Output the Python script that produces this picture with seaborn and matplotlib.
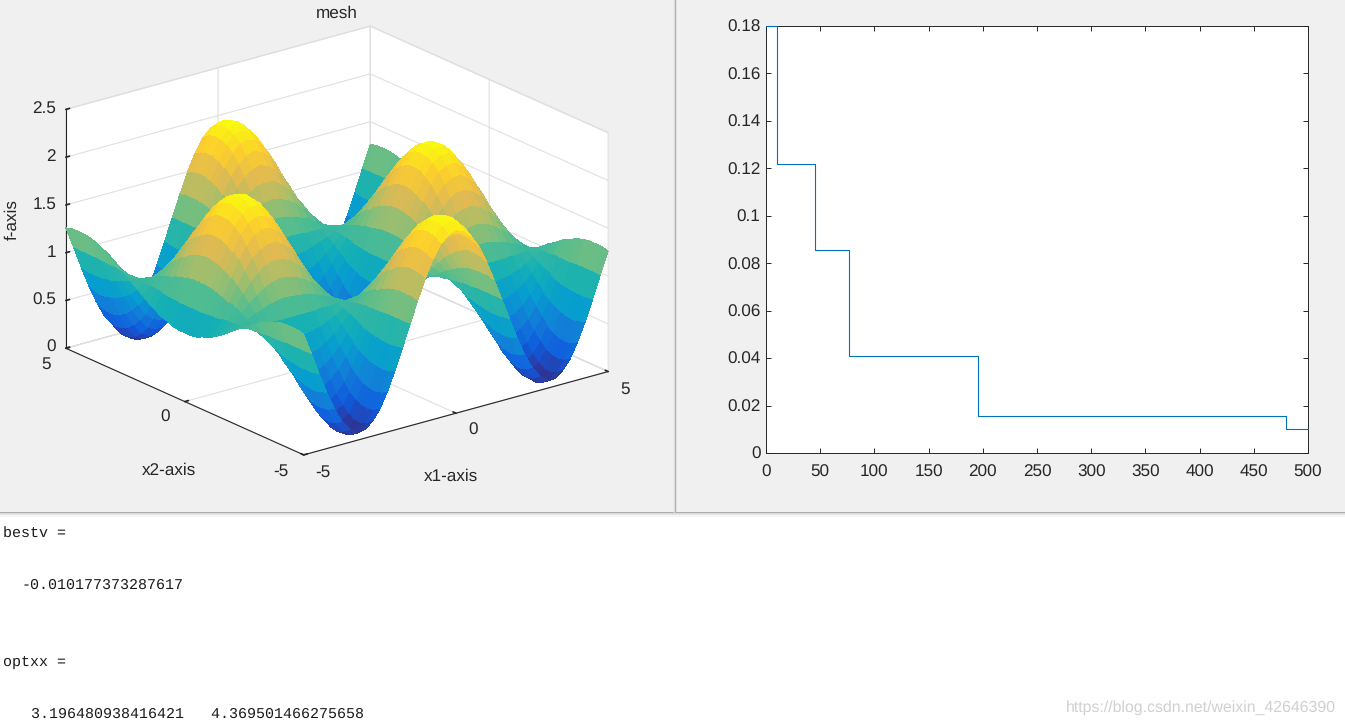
import numpy as np
import pandas as pd
import matplotlib
matplotlib.use('Agg')
import matplotlib.pyplot as plt
from matplotlib.colors import LinearSegmentedColormap
from matplotlib.patches import Rectangle
from matplotlib.lines import Line2D
import seaborn as sns

# best value per iteration (right window)
iteracion = [0, 10, 45, 77, 196, 480, 500]
mejor_valor = [0.18, 0.122, 0.0857, 0.041, 0.0157, 0.0102, 0.0102]

x_ticks_2d = list(range(0, 501, 50))
y_ticks_2d = [0, 0.02, 0.04, 0.06, 0.08, 0.1, 0.12, 0.14, 0.16, 0.18]
y_labels_2d = ['0', '0.02', '0.04', '0.06', '0.08', '0.1', '0.12', '0.14', '0.16', '0.18']

# surface heights read for one quadrant, x2 = 0..5 (rows), x1 = 0..5 (columns), step 0.25
cuadrante = np.array([
    [.00, .03, .12, .27, .46, .69, .93, 1.18, 1.42, 1.63, 1.80, 1.92, 1.99, 1.99, 1.94, 1.82, 1.65, 1.45, 1.21, .96, .72],
    [.02, .05, .14, .28, .47, .69, .93, 1.18, 1.41, 1.62, 1.79, 1.91, 1.97, 1.98, 1.92, 1.81, 1.64, 1.44, 1.21, .96, .72],
    [.06, .09, .18, .31, .49, .70, .93, 1.17, 1.39, 1.59, 1.75, 1.87, 1.93, 1.93, 1.88, 1.77, 1.61, 1.42, 1.20, .96, .73],
    [.14, .16, .24, .37, .53, .73, .94, 1.15, 1.36, 1.54, 1.69, 1.80, 1.85, 1.86, 1.81, 1.71, 1.56, 1.39, 1.18, .97, .76],
    [.24, .26, .33, .44, .59, .76, .95, 1.14, 1.32, 1.48, 1.61, 1.70, 1.75, 1.76, 1.71, 1.62, 1.50, 1.34, 1.16, .97, .78],
    [.37, .39, .44, .54, .66, .80, .96, 1.11, 1.26, 1.40, 1.51, 1.59, 1.63, 1.63, 1.59, 1.52, 1.41, 1.28, 1.13, .98, .82],
    [.51, .53, .57, .64, .74, .85, .97, 1.09, 1.20, 1.31, 1.39, 1.45, 1.48, 1.49, 1.46, 1.40, 1.32, 1.22, 1.10, .98, .86],
    [.67, .68, .71, .76, .82, .90, .98, 1.06, 1.14, 1.21, 1.26, 1.30, 1.32, 1.33, 1.31, 1.27, 1.21, 1.15, 1.07, .99, .91],
    [.84, .85, .86, .89, .92, .95, .99, 1.03, 1.07, 1.10, 1.13, 1.14, 1.15, 1.16, 1.15, 1.13, 1.10, 1.07, 1.03, .99, .96],
    [1.02, 1.02, 1.02, 1.01, 1.01, 1.01, 1.00, 1.00, .99, .99, .98, .98, .98, .98, .98, .98, .99, .99, 1.00, 1.00, 1.01],
    [1.20, 1.19, 1.17, 1.14, 1.11, 1.06, 1.01, .97, .92, .88, .84, .82, .81, .81, .82, .84, .87, .91, .96, 1.01, 1.06],
    [1.37, 1.35, 1.32, 1.27, 1.20, 1.12, 1.03, .94, .85, .77, .71, .66, .64, .64, .66, .70, .76, .84, .92, 1.01, 1.10],
    [1.52, 1.51, 1.46, 1.38, 1.28, 1.17, 1.04, .91, .78, .67, .58, .52, .48, .48, .51, .57, .66, .77, .89, 1.02, 1.15],
    [1.67, 1.64, 1.58, 1.49, 1.36, 1.21, 1.05, .88, .72, .58, .47, .39, .34, .34, .38, .45, .57, .70, .86, 1.03, 1.19],
    [1.79, 1.76, 1.69, 1.58, 1.42, 1.25, 1.06, .86, .67, .51, .37, .27, .22, .22, .26, .36, .49, .65, .83, 1.03, 1.22],
    [1.88, 1.86, 1.78, 1.65, 1.48, 1.28, 1.06, .84, .63, .45, .29, .18, .13, .12, .17, .28, .42, .61, .81, 1.03, 1.25],
    [1.95, 1.92, 1.84, 1.70, 1.51, 1.30, 1.07, .83, .60, .40, .24, .12, .06, .06, .11, .22, .38, .58, .80, 1.04, 1.27],
    [1.99, 1.96, 1.87, 1.73, 1.54, 1.31, 1.07, .82, .59, .38, .21, .08, .02, .02, .07, .19, .35, .56, .79, 1.04, 1.28],
    [2.00, 1.97, 1.88, 1.73, 1.54, 1.31, 1.07, .82, .58, .37, .20, .08, .01, .01, .06, .18, .35, .55, .79, 1.04, 1.28],
    [1.98, 1.95, 1.86, 1.71, 1.53, 1.31, 1.07, .83, .59, .39, .22, .10, .03, .03, .09, .20, .36, .57, .79, 1.04, 1.28],
    [1.92, 1.89, 1.81, 1.68, 1.50, 1.29, 1.07, .84, .62, .42, .26, .15, .09, .08, .14, .24, .40, .59, .81, 1.04, 1.26],
])

# the four quadrants look the same in the picture, so mirror the table
z = np.hstack([cuadrante[:, :0:-1], cuadrante])
z = np.vstack([z[:0:-1], z])
eje = np.arange(-5, 5.01, 0.25)
x1, x2 = np.meshgrid(eje, eje)

parula = LinearSegmentedColormap.from_list('parula', [
    (.2081, .1663, .5292), (.0591, .3598, .8683), (.0723, .4887, .8467), (.0265, .6137, .8135),
    (.0843, .6928, .7062), (.3482, .7424, .5473), (.6473, .7456, .4188), (.8824, .7274, .3217),
    (.9880, .8066, .1794), (.9763, .9831, .0538)])

sns.set_theme(style='white')
plt.rcParams['font.family'] = ['Liberation Sans', 'DejaVu Sans']
plt.rcParams['axes3d.automargin'] = False
plt.rcParams['axes.unicode_minus'] = False
plt.rcParams['text.hinting'] = 'no_hinting'

W, H = 1345, 727
fig = plt.figure(figsize=(W / 100, H / 100), dpi=100, facecolor='white')
gris = '#f0f0f0'
texto = '#262626'
tam = 12.3

# window backgrounds
fig.patches.append(Rectangle((0, 1 - 512 / H), 1, 512 / H, transform=fig.transFigure, color=gris, zorder=-5))
for py, c in [(512.5, '#a0a0a0'), (514, '#e2e2e2'), (516, '#f4f4f4')]:
    fig.lines.append(Line2D([0, 1], [1 - py / H] * 2, transform=fig.transFigure, color=c, lw=1.2))
for px, c in [(675, '#a8a8a8'), (673.5, '#dcdcdc')]:
    fig.lines.append(Line2D([px / W] * 2, [1 - 512 / H, 1], transform=fig.transFigure, color=c, lw=1))

# left window: surface
ax = fig.add_axes([-43 / W, 1 - 620.5 / H, 740 / W, 740 / H], projection='3d')
ax.patch.set_alpha(0)
ax.set_proj_type('ortho')
ax.view_init(elev=20.5, azim=-128.0)
ax.set_box_aspect((1, 1, 0.66), zoom=0.791)
ax.plot_surface(x1, x2, z, cmap=parula, vmin=0, vmax=2, rstride=1, cstride=1,
                linewidth=0, antialiased=False, shade=False)
ax.set_xlim(-5, 5)
ax.set_ylim(-5, 5)
ax.set_zlim(0, 2.5)
ax.set_xticks([-5, 0, 5])
ax.set_yticks([-5, 0, 5])
ax.set_zticks([0, 0.5, 1, 1.5, 2, 2.5])
ax.set_zticklabels(['0', '0.5', '1', '1.5', '2', '2.5'])
for a in (ax.xaxis, ax.yaxis, ax.zaxis):
    a.set_pane_color((1, 1, 1, 1))
    a.pane.set_edgecolor('#d6d6d6')
    a.pane.set_linewidth(0.8)
    a._axinfo['grid'].update(color='#e0e0e0', linewidth=0.8)
    a._axinfo['tick'].update(inward_factor=0, outward_factor=0.15)
    a.line.set_color('#262626')
    a.line.set_linewidth(0.8)
ax.tick_params(labelsize=tam, colors=texto)
ax.tick_params(axis='x', pad=6)
ax.tick_params(axis='y', pad=6)
ax.tick_params(axis='z', pad=-3)
for t in ax.zaxis.get_ticklabels():
    t.set_ha('right')
    t.set_va('center')
for t in ax.xaxis.get_ticklabels():
    t.set_ha('left')
    t.set_va('center')
for t in ax.yaxis.get_ticklabels():
    t.set_ha('right')
    t.set_va('center')

fig.text(337 / W, 1 - 13 / H, 'mesh', fontsize=tam, color=texto, ha='center', va='center')
fig.text(451 / W, 1 - 476 / H, 'x1-axis', fontsize=tam, color=texto, ha='center', va='center')
fig.text(169 / W, 1 - 470 / H, 'x2-axis', fontsize=tam, color=texto, ha='center', va='center')
fig.text(12 / W, 1 - 220 / H, 'f-axis', fontsize=tam, color=texto, ha='center', va='center', rotation=90)

# right window: convergence curve
ax2 = fig.add_axes([766 / W, 1 - 453 / H, 542 / W, 427 / H])
ax2.set_facecolor('white')
datos = pd.DataFrame({'iteracion': iteracion, 'mejor_valor': mejor_valor})
sns.lineplot(data=datos, x='iteracion', y='mejor_valor', ax=ax2, color='#0072BD', linewidth=0.8,
             drawstyle='steps-post', errorbar=None, zorder=3, clip_on=False)
ax2.set_xlim(0, 500)
ax2.set_ylim(0, 0.18)
ax2.set_xticks(x_ticks_2d)
ax2.set_yticks(y_ticks_2d)
ax2.set_yticklabels(y_labels_2d)
ax2.set_xlabel('')
ax2.set_ylabel('')
ax2.tick_params(direction='in', length=3.6, width=0.7, top=True, right=True, labelsize=tam,
                colors=texto, bottom=True, left=True)
ax2.tick_params(axis='x', pad=8)
ax2.tick_params(axis='y', pad=4)
for s in ax2.spines.values():
    s.set_color(texto)
    s.set_linewidth(0.7)

# command window text
consola = [(3, 534, 'bestv ='), (22, 585, '-0.010177373287617'), (3, 663, 'optxx ='),
           (31, 714, '3.196480938416421   4.369501466275658')]
for px, py, t in consola:
    fig.text(px / W, 1 - py / H, t, fontsize=10.8, family='Liberation Mono', color='#1a1a1a', va='center')

fig.text(1336 / W, 1 - 708 / H, 'https://blog.csdn.net/weixin_42646390', fontsize=11.4,
         color='#d0d0d0', ha='right', va='center')

fig.savefig('out.png', dpi=100, facecolor=fig.get_facecolor())
